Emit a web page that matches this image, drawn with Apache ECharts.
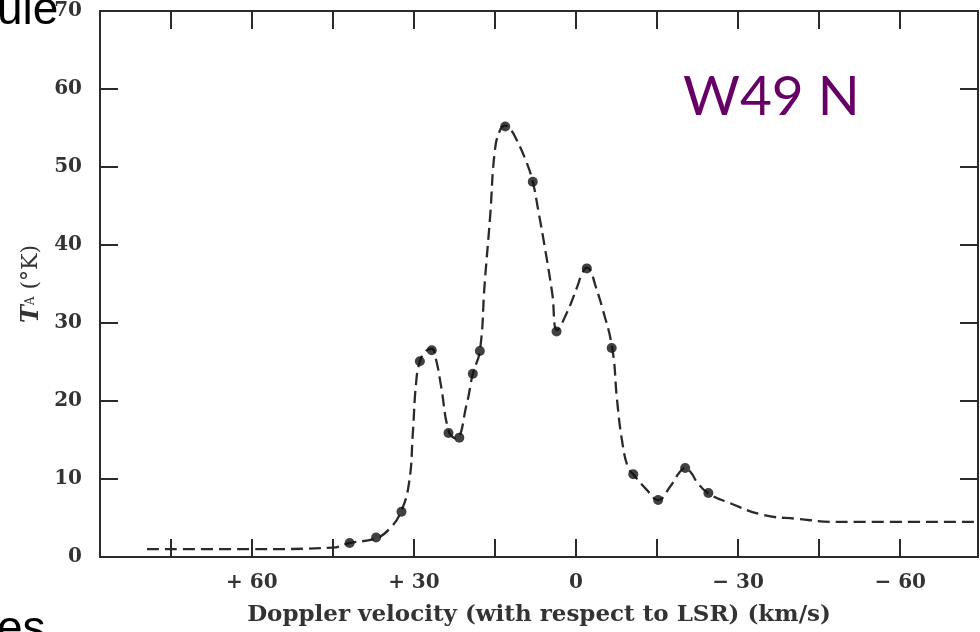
<!DOCTYPE html>
<html>
<head>
<meta charset="utf-8">
<script src="https://cdn.jsdelivr.net/npm/echarts@6/dist/echarts.min.js"></script>
<style>
  html, body { margin: 0; padding: 0; background: #fff; }
  #chart { width: 980px; height: 632px; }
</style>
</head>
<body>
<div id="chart"></div>
<script>
// observed points (velocity km/s, antenna temperature K)
var pointVel = [41.9, 37.0, 32.3, 28.9, 26.7, 23.6, 21.6, 19.1, 17.8, 13.1, 8.0, 3.6, -2.0, -6.6, -10.6, -15.2, -20.2, -24.5];
var pointTemp = [1.8, 2.5, 5.8, 25.1, 26.5, 15.9, 15.3, 23.5, 26.4, 55.2, 48.1, 28.9, 37.0, 26.8, 10.6, 7.3, 11.4, 8.2];

// dashed fitted profile
var curveVel = [79.4, 60.4, 45.0, 41.9, 37.0, 34.4, 32.4, 30.9, 30.2, 29.6, 28.9, 27.8, 26.7, 25.9, 25.0, 23.5, 22.2, 20.2, 19.1, 17.8, 16.9, 15.9, 15.0, 14.0, 13.1, 12.1, 11.0, 9.1, 8.0, 7.0, 5.7, 4.4, 3.5, 1.7, -0.2, -1.1, -2.0, -2.7, -3.5, -4.8, -6.7, -7.6, -8.5, -9.6, -10.6, -13.1, -15.2, -17.4, -19.2, -20.2, -21.3, -22.4, -24.4, -28.5, -34.6, -40.9, -48.3, -74.4];
var curveTemp = [1.0, 1.0, 1.2, 1.8, 2.4, 3.7, 5.8, 9.5, 15.9, 22.3, 25.1, 26.4, 26.7, 25.3, 22.0, 16.0, 15.2, 19.7, 23.5, 26.4, 35.1, 43.6, 52.2, 54.8, 55.3, 54.8, 53.5, 50.5, 48.1, 44.5, 39.4, 33.8, 29.1, 31.3, 34.6, 36.3, 37.1, 36.7, 35.0, 32.1, 26.8, 20.1, 15.0, 11.5, 10.6, 8.6, 7.3, 9.0, 10.9, 11.4, 10.8, 9.6, 8.2, 6.9, 5.4, 4.9, 4.5, 4.5];

var velTicks = [75, 60, 45, 30, 15, 0, -15, -30, -45, -60];
var velLabels = [60, 30, 0, -30, -60];
var tempTicks = [10, 20, 30, 40, 50, 60];
var tempLabels = [0, 10, 20, 30, 40, 50, 60, 70];

var ink = '#2a2a2a';
var serif = 'DejaVu Serif';

function zip(a, b) {
    var out = [];
    for (var i = 0; i < a.length; i++) out.push([a[i], b[i]]);
    return out;
}

function velFmt(v) {
    if (v > 0) return '+ ' + v;
    if (v < 0) return '\u2212 ' + (-v);
    return '0';
}

var xBase = {
    type: 'value',
    min: -74.4,
    max: 88.1,
    inverse: true,
    splitLine: { show: false },
    axisLine: { onZero: false, lineStyle: { color: ink, width: 2 } },
    axisTick: { inside: true, length: 18, customValues: velTicks, lineStyle: { color: ink, width: 2 } }
};
var yBase = {
    type: 'value',
    min: 0,
    max: 70,
    splitLine: { show: false },
    axisLine: { onZero: false, lineStyle: { color: ink, width: 2 } },
    axisTick: { inside: true, length: 18, customValues: tempTicks, lineStyle: { color: ink, width: 2 } }
};

var chart = echarts.init(document.getElementById('chart'));
chart.setOption({
    backgroundColor: '#fff',
    animation: false,
    grid: { left: 100, right: 2, top: 11, bottom: 75 },
    xAxis: [
        Object.assign({}, xBase, {
            position: 'bottom',
            axisLabel: {
                customValues: velLabels, formatter: velFmt, margin: 16,
                color: '#333', fontFamily: serif, fontWeight: 'bold', fontSize: 20
            },
            name: 'Doppler velocity (with respect to LSR) (km/s)',
            nameLocation: 'middle',
            nameGap: 47,
            nameTextStyle: { color: '#333', fontFamily: serif, fontWeight: 'bold', fontSize: 23 }
        }),
        Object.assign({}, xBase, { position: 'top', axisLabel: { show: false } })
    ],
    yAxis: [
        Object.assign({}, yBase, {
            position: 'left',
            axisLabel: {
                customValues: tempLabels, margin: 18,
                color: '#333', fontFamily: serif, fontWeight: 'bold', fontSize: 20
            },
            name: '{i|T}{s|A} (°K)',
            nameLocation: 'middle',
            nameGap: 54,
            nameTextStyle: {
                color: '#333', fontFamily: serif, fontSize: 22,
                rich: {
                    i: { fontFamily: serif, fontStyle: 'italic', fontWeight: 'bold', fontSize: 24, color: '#333' },
                    s: { fontFamily: serif, fontSize: 12, color: '#333' }
                }
            }
        }),
        Object.assign({}, yBase, { position: 'right', axisLabel: { show: false } })
    ],
    series: [
        {
            type: 'line',
            data: zip(curveVel, curveTemp),
            smooth: 0.45,
            symbol: 'none',
            lineStyle: { color: ink, width: 2.3, type: [12, 6] },
            z: 2
        },
        {
            type: 'scatter',
            data: zip(pointVel, pointTemp),
            symbol: 'circle',
            symbolSize: 10,
            itemStyle: { color: '#111' },
            z: 3
        }
    ],
    graphic: [
        { type: 'text', left: 683, top: 70, z: 10,
          style: { text: 'W49 N', fill: '#660066', font: '55px Lato' } },
        { type: 'text', x: -3, y: 34, z: 10,
          style: { text: 'ule', fill: '#000', font: '46px "Liberation Sans"', textVerticalAlign: 'bottom' } },
        { type: 'text', x: -3, y: 653, z: 10,
          style: { text: 'es', fill: '#000', font: '46px "Liberation Sans"', textVerticalAlign: 'bottom' } }
    ]
});
</script>
</body>
</html>
